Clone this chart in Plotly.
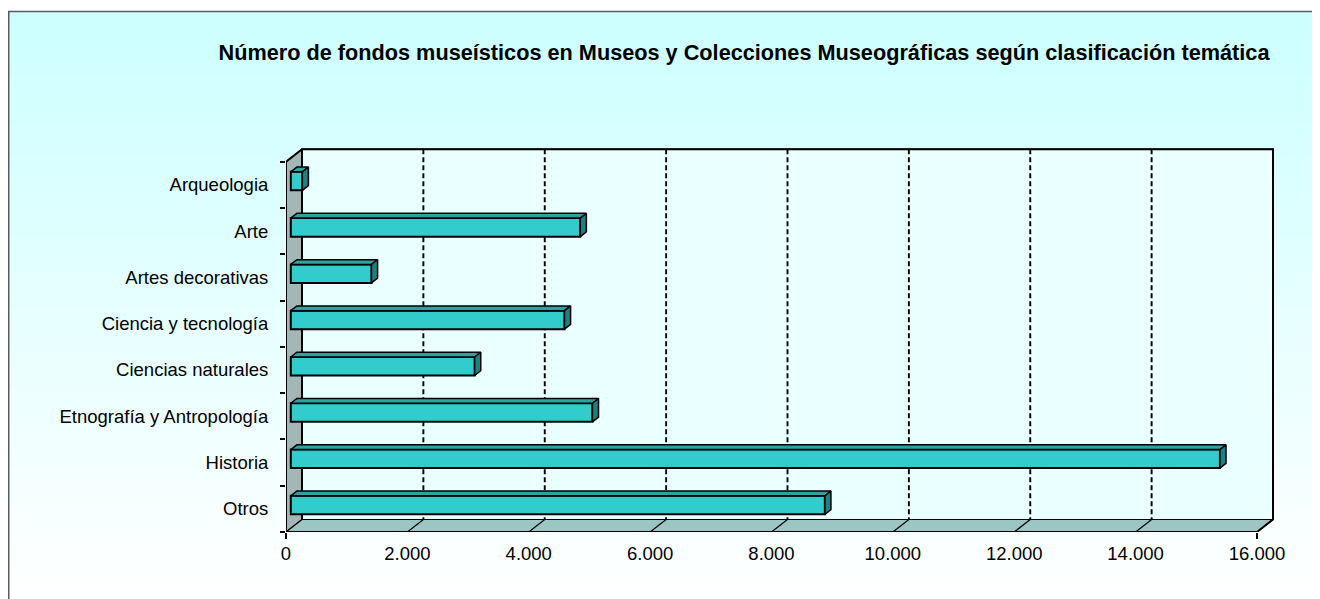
import plotly.graph_objects as go

# ---------------- data ----------------
categories = ["Arqueologia", "Arte", "Artes decorativas", "Ciencia y tecnología",
              "Ciencias naturales", "Etnografía y Antropología", "Historia", "Otros"]
values = [190, 4770, 1330, 4510, 3030, 4970, 15310, 8800]
tick_values = [0, 2000, 4000, 6000, 8000, 10000, 12000, 14000, 16000]
tick_labels = ["0", "2.000", "4.000", "6.000", "8.000", "10.000", "12.000", "14.000", "16.000"]
title_text = "Número de fondos museísticos en Museos y Colecciones Museográficas según clasificación temática"

# ---------------- geometry (styling) ----------------
OFF = 8                                # page body margin
W, H = 1320 - OFF, 599 - OFF
L, R_EDGE, T, B = 286 - OFF, 1292 - OFF, 148 - OFF, 532 - OFF
PXU = 971 / 16000.0                    # px per x unit
XMAX = (R_EDGE - L) / PXU
ROW = (532 - 161.7) / 8.0              # px per category
YTOP = -0.5 - (161.7 - 148) / ROW
YRANGE = [7.5, YTOP]
DX = 16 / PXU                          # depth offset in x units
DY = -12.5 / ROW                       # depth offset in category units
F0, F1, HW = 0.30, 0.68, 0.2
XEND = tick_values[-1]
n = len(categories)

FONT = "Liberation Sans, Arial, sans-serif"
TEAL = "#33CCCC"
TOP_C = "#2AA3A3"
SIDE_C = "#1E8080"

fig = go.Figure()

def poly(xs, ys, fill, lw=1.5, color="black", axes=("x", "y")):
    fig.add_trace(go.Scatter(x=xs, y=ys, mode="lines", fill="toself" if fill else None,
                             fillcolor=fill, line=dict(color=color, width=lw),
                             xaxis=axes[0], yaxis=axes[1],
                             hoverinfo="skip", showlegend=False))

# back wall
poly([DX, XEND + DX, XEND + DX, DX, DX],
     [-0.5 + DY, -0.5 + DY, n - 0.5 + DY, n - 0.5 + DY, -0.5 + DY], "#EAFFFF", 1.2)
# left wall
poly([0, DX, DX, 0, 0], [-0.5, -0.5 + DY, n - 0.5 + DY, n - 0.5, -0.5], "#A4B6B6", 1.2)
# floor
poly([0, XEND, XEND + DX, DX, 0], [n - 0.5, n - 0.5, n - 0.5 + DY, n - 0.5 + DY, n - 0.5], "#9CC6C3", 1.2)

# grid lines on back wall (dashed) and floor (solid)
gx, gy, fx, fy = [], [], [], []
for v in tick_values[1:-1]:
    gx += [v + DX, v + DX, None]
    gy += [-0.5 + DY, n - 0.5 + DY, None]
    fx += [v, v + DX, None]
    fy += [n - 0.5, n - 0.5 + DY, None]
fig.add_trace(go.Scatter(x=gx, y=gy, mode="lines", line=dict(color="black", width=1.9, dash="5px,3px"),
                         hoverinfo="skip", showlegend=False))
fig.add_trace(go.Scatter(x=fx, y=fy, mode="lines", line=dict(color="black", width=1.2),
                         hoverinfo="skip", showlegend=False))
# thick outer edges of the 3D box
fig.add_trace(go.Scatter(x=[DX, 0, 0, XEND, XEND + DX, XEND + DX, DX, DX],
                         y=[-0.5 + DY, -0.5, n - 0.5, n - 0.5, n - 0.5 + DY, -0.5 + DY, -0.5 + DY, n - 0.5 + DY],
                         mode="lines", line=dict(color="black", width=2),
                         hoverinfo="skip", showlegend=False))

# bars (overlay subplot so they sit above the walls): front faces as bar trace
fig.add_trace(go.Bar(orientation="h", x=values, y=[i + F0 * DY for i in range(n)],
                     base=F0 * DX, width=2 * HW, xaxis="x2", yaxis="y2",
                     marker=dict(color=TEAL, line=dict(color="black", width=2)),
                     hoverinfo="skip", showlegend=False))
# 3D top and side faces
dd = (F1 - F0)
for i, v in enumerate(values):
    yc = i + F0 * DY
    top = yc - HW
    bot = yc + HW
    x0 = F0 * DX
    x1 = v + F0 * DX
    poly([x0, x1, x1 + dd * DX, x0 + dd * DX, x0],
         [top, top, top + dd * DY, top + dd * DY, top], TOP_C, 1.5, axes=("x2", "y2"))
    poly([x1, x1 + dd * DX, x1 + dd * DX, x1, x1],
         [top, top + dd * DY, bot + dd * DY, bot, top], SIDE_C, 1.5, axes=("x2", "y2"))

# gradient background
PW = R_EDGE - L
PH = B - T
shapes = []
step = 4
for py in range(0, H + 8, step):
    t = min(max((py - 3) / (H - 3.0), 0), 1)
    r = int(round(204 + 51 * t))
    shapes.append(dict(type="rect", xref="paper", yref="paper", layer="below",
                       x0=(0 - L) / PW, x1=(W + 10 - L) / PW,
                       y0=(B - (py + step + 0.5)) / PH, y1=(B - py) / PH,
                       fillcolor=f"rgb({r},255,255)", line=dict(width=0)))
# white strip above the border
shapes.append(dict(type="rect", xref="paper", yref="paper", layer="below",
                   x0=(0 - L) / PW, x1=(W + 10 - L) / PW,
                   y0=(B - 3) / PH, y1=(B + 10) / PH,
                   fillcolor="white", line=dict(width=0)))
# outer border
shapes.append(dict(type="rect", xref="paper", yref="paper", layer="above",
                   x0=(0.75 - L) / PW, x1=(W + 10 - L) / PW,
                   y0=(B - H - 10) / PH, y1=(B - 3.5) / PH,
                   fillcolor="rgba(0,0,0,0)", line=dict(color="#5a5a5a", width=1.5)))

tickfont = dict(family=FONT, size=18.5, color="black")
fig.update_layout(
    width=W, height=H,
    margin=dict(l=L, r=W - R_EDGE, t=T, b=H - B, pad=0),
    paper_bgcolor="white", plot_bgcolor="rgba(0,0,0,0)",
    title=dict(text="<b>" + title_text + "</b>", x=(744 - OFF) / W, xanchor="center",
               y=1 - (52 - OFF) / H, yanchor="middle",
               font=dict(family=FONT, size=21.7, color="black")),
    xaxis=dict(range=[0, XMAX], tickvals=tick_values, ticktext=tick_labels, ticks="outside",
               ticklen=5, tickcolor="rgba(0,0,0,0)", showgrid=False, zeroline=False,
               showline=False, tickfont=tickfont, fixedrange=True),
    xaxis2=dict(range=[0, XMAX], overlaying="x", anchor="y2", side="bottom",
                tickvals=[tick_values[0], tick_values[-1]], ticks="outside", ticklen=6,
                tickwidth=1.5, tickcolor="black", showticklabels=False, showgrid=False,
                zeroline=False, showline=False, fixedrange=True),
    yaxis=dict(range=YRANGE, tickvals=list(range(n)), ticktext=categories, ticks="outside",
               ticklen=13, tickcolor="rgba(0,0,0,0)", showgrid=False, zeroline=False,
               showline=False, tickfont=tickfont, fixedrange=True),
    yaxis2=dict(range=YRANGE, overlaying="y", anchor="x2", side="left",
                tickvals=[i - 0.5 for i in range(n + 1)], ticks="outside", ticklen=5,
                tickwidth=1.5, tickcolor="black", showticklabels=False, showgrid=False,
                zeroline=False, showline=False, fixedrange=True),
    shapes=shapes,
    showlegend=False,
)

fig.write_html("out.html")
